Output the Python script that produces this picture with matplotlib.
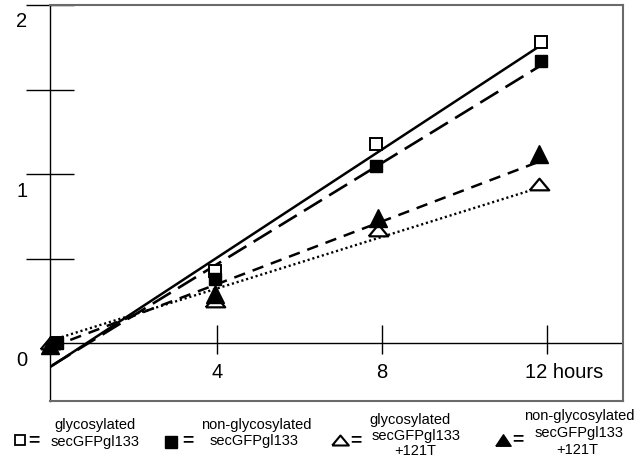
import matplotlib
matplotlib.use("Agg")
import matplotlib.pyplot as plt

plt.rcParams['font.family'] = ['Liberation Sans', 'DejaVu Sans']

# time points (hours) as drawn
hours_sq = [0.12, 3.95, 7.85, 11.85]
hours_tri = [-0.05, 3.95, 7.9, 11.8]

# measured values
glyco = [0.0, 0.43, 1.18, 1.78]
nonglyco = [0.0, 0.38, 1.05, 1.67]
glyco_t = [0.0, 0.25, 0.67, 0.94]
nonglyco_t = [-0.01, 0.29, 0.74, 1.12]

# fitted lines (start/end hour, start/end value)
fit_glyco_x, fit_glyco_y = [-0.05, 11.9], [-0.14, 1.77]
fit_nonglyco_x, fit_nonglyco_y = [0.0, 11.83], [-0.13, 1.64]
fit_glyco_t_x, fit_glyco_t_y = [0.0, 11.54], [0.02, 0.90]
fit_nonglyco_t_x, fit_nonglyco_t_y = [0.0, 11.76], [-0.02, 1.07]

x_ticks = [4, 8, 12]
x_labels = ['4', '8', '12 hours']
y_ticks = [0.5, 1.0, 1.5, 2.0]
y_labels = [0, 1, 2]

W, H = 638, 458
fig = plt.figure(figsize=(W / 100, H / 100), dpi=100)
ax = fig.add_axes([50 / W, 1 - 401 / H, (623 - 50) / W, (401 - 5) / H])
ax.set_xlim(-0.05, 13.84)
ax.set_ylim(-0.34, 2.0)

frame = '#6a6a6a'
for s in ['top', 'right', 'bottom']:
    ax.spines[s].set_color(frame)
    ax.spines[s].set_linewidth(1.5)
ax.spines['left'].set_color('black')
ax.spines['left'].set_linewidth(1)

ax.set_xticks([])
ax.set_yticks(y_ticks)
ax.set_yticklabels([])
ax.tick_params(axis='y', direction='inout', length=34.5, width=1, color='black')

# x axis line at zero and its ticks
ax.axhline(0, color='black', lw=1)
ax.vlines(x_ticks, -0.065, 0.11, color='black', lw=1)

for t, lab in zip(x_ticks, x_labels):
    if lab.startswith('12'):
        ax.text(t - 0.53, -0.17, lab, ha='left', va='center', fontsize=14.5, clip_on=False)
    else:
        ax.text(t, -0.17, lab, ha='center', va='center', fontsize=14.5, clip_on=False)
for v in y_labels:
    ax.text(-0.73, v - 0.1, str(v), ha='center', va='center', fontsize=14.5, clip_on=False)

# fitted lines
ax.plot(fit_glyco_x, fit_glyco_y, color='black', lw=1.8, solid_capstyle='butt')
ax.plot(fit_nonglyco_x, fit_nonglyco_y, color='black', lw=1.9, dashes=(8.0, 3.2))
ax.plot(fit_nonglyco_t_x, fit_nonglyco_t_y, color='black', lw=1.8, dashes=(4.6, 3.2))
ax.plot(fit_glyco_t_x, fit_glyco_t_y, color='black', lw=1.7, dashes=(0.9, 1.2))

flat_tri = [(-1, -0.6), (1, -0.6), (0, 0.6), (-1, -0.6)]
legend_tri = [(-1, -0.75), (1, -0.75), (0, 0.75), (-1, -0.75)]

# data points
ax.plot(hours_tri, glyco_t, ls='none', marker=flat_tri, markersize=14,
        mfc='white', mec='black', mew=1.6, clip_on=False)
ax.plot(hours_tri, nonglyco_t, ls='none', marker='^', markersize=13.5,
        mfc='black', mec='black', clip_on=False)
ax.plot(hours_sq, glyco, ls='none', marker='s', markersize=8.3,
        mfc='white', mec='black', mew=1.4, clip_on=False)
ax.plot(hours_sq, nonglyco, ls='none', marker='s', markersize=9,
        mfc='black', mec='black', clip_on=False)

# legend below the plot
leg = fig.add_axes([0, 0, 1, 1])
leg.set_xlim(0, W)
leg.set_ylim(H, 0)
leg.axis('off')
leg.patch.set_alpha(0)

fs = 10.5
leg.plot([20], [440], marker='s', markersize=7.5, mfc='white', mec='black', mew=1.3, ls='none')
leg.text(34, 441, '=', ha='center', va='center', fontsize=14, fontweight='bold')
leg.text(95, 425, 'glycosylated', ha='center', va='center', fontsize=fs)
leg.text(95, 442, 'secGFPgl133', ha='center', va='center', fontsize=fs)

leg.plot([171], [442], marker='s', markersize=8.5, mfc='black', mec='black', ls='none')
leg.text(188, 441, '=', ha='center', va='center', fontsize=14, fontweight='bold')
leg.text(256, 425, 'non-glycosylated', ha='center', va='center', fontsize=fs)
leg.text(254, 441, 'secGFPgl133', ha='center', va='center', fontsize=fs)

leg.plot([340], [440], marker=flat_tri, markersize=12, mfc='white', mec='black', mew=1.5, ls='none')
leg.text(356, 441, '=', ha='center', va='center', fontsize=14, fontweight='bold')
leg.text(410, 420, 'glycosylated', ha='center', va='center', fontsize=fs)
leg.text(416, 436, 'secGFPgl133', ha='center', va='center', fontsize=fs)
leg.text(415, 451, '+121T', ha='center', va='center', fontsize=fs)

leg.plot([503], [440], marker=legend_tri, markersize=11,
         mfc='black', mec='black', ls='none')
leg.text(518, 440, '=', ha='center', va='center', fontsize=14, fontweight='bold')
leg.text(579, 416, 'non-glycosylated', ha='center', va='center', fontsize=fs)
leg.text(579, 433, 'secGFPgl133', ha='center', va='center', fontsize=fs)
leg.text(577, 450, '+121T', ha='center', va='center', fontsize=fs)

fig.savefig('out.png', dpi=100, facecolor='white')
